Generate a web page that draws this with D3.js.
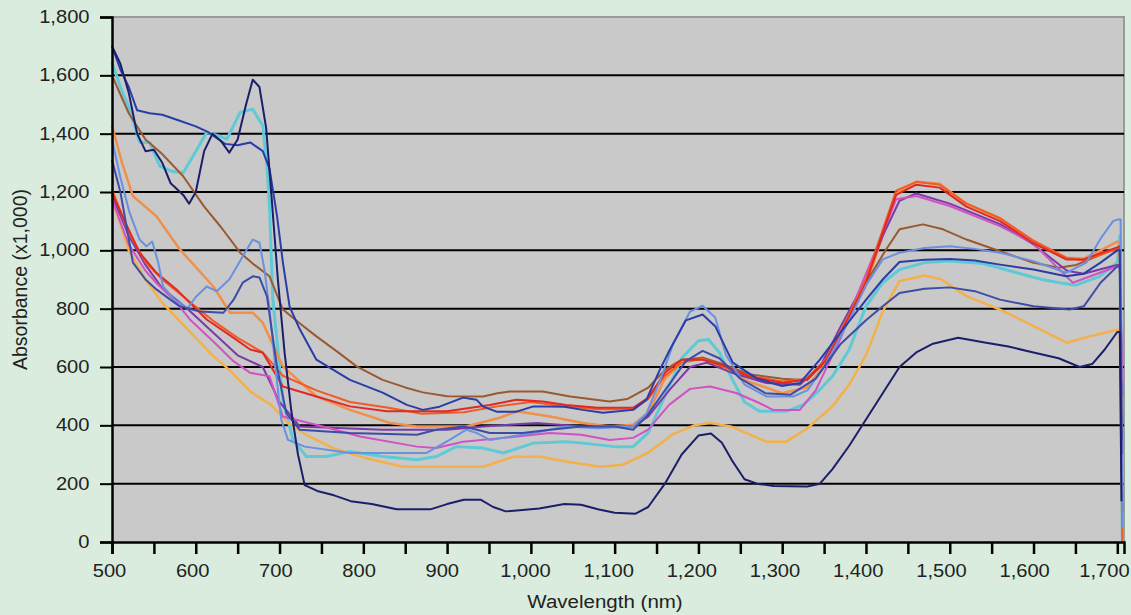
<!DOCTYPE html>
<html><head><meta charset="utf-8">
<script src="https://cdn.jsdelivr.net/npm/d3@7"></script>
<style>
html,body{margin:0;padding:0;background:#d9ecdd;}
svg{display:block;}
text{font-family:"Liberation Sans",Arial,sans-serif;fill:#222;}
</style></head>
<body><svg id="c" width="1131" height="615"></svg>
<script>
// ---- data (wavelength nm, absorbance x1000) ----
const yTicks = [0,200,400,600,800,1000,1200,1400,1600,1800];
const xTickLabels = [500,600,700,800,900,1000,1100,1200,1300,1400,1500,1600,1700];
const xMinorTicks = [550,650,750,850,950,1050,1150,1250,1350,1450,1550,1650];

const cyan = [[500,1644],[510,1560],[521,1484],[533,1370],[545,1370],[557,1289],[572,1270],[585,1266],[597,1324],[613,1404],[625,1395],[637,1381],[653,1473],[668,1484],[680,1427],[685,1289],[688,1152],[692,831],[704,488],[716,350],[732,293],[756,293],[784,310],[823,293],[864,282],[887,293],[911,327],[943,322],[967,305],[1003,339],[1042,344],[1062,339],[1100,327],[1122,327],[1140,374],[1160,500],[1180,630],[1200,690],[1212,694],[1225,650],[1240,560],[1255,480],[1273,448],[1305,448],[1325,470],[1341,511],[1360,568],[1380,660],[1400,808],[1420,889],[1440,934],[1470,958],[1500,963],[1540,955],[1580,923],[1610,900],[1631,889],[1650,880],[1679,911],[1700,958],[1703,1049],[1706,0]];
const lightOrange = [[500,1180],[520,1000],[540,900],[560,820],[580,760],[600,700],[620,640],[640,590],[665,516],[690,470],[710,410],[730,370],[764,322],[800,290],[847,258],[943,258],[979,292],[1011,292],[1042,276],[1082,258],[1110,265],[1140,306],[1170,370],[1195,400],[1214,408],[1240,395],[1260,370],[1281,344],[1305,344],[1330,390],[1360,465],[1380,540],[1400,640],[1420,790],[1440,895],[1470,914],[1490,900],[1520,843],[1560,797],[1600,740],[1640,683],[1667,705],[1700,728],[1703,728],[1706,200]];
const orange = [[500,1427],[512,1300],[525,1186],[553,1117],[581,1003],[621,876],[641,786],[668,786],[680,752],[704,602],[744,499],[784,453],[832,408],[864,396],[923,396],[963,426],[983,448],[1023,430],[1062,408],[1094,396],[1122,402],[1140,443],[1160,560],[1180,615],[1205,632],[1230,600],[1260,550],[1300,510],[1329,530],[1353,615],[1380,770],[1400,880],[1420,1050],[1436,1195],[1460,1235],[1488,1228],[1520,1160],[1560,1110],[1599,1030],[1639,975],[1660,972],[1680,1000],[1700,1030],[1703,1025],[1706,0]];
const brown = [[500,1600],[520,1470],[540,1380],[560,1330],[585,1254],[610,1150],[630,1080],[653,992],[670,950],[688,911],[704,797],[724,750],[744,705],[770,650],[792,602],[823,556],[850,530],[871,513],[900,500],[943,499],[960,510],[975,516],[1014,516],[1047,499],[1094,482],[1115,490],[1140,529],[1160,590],[1180,625],[1205,632],[1230,610],[1260,575],[1300,560],[1330,555],[1353,625],[1380,774],[1400,889],[1424,1003],[1440,1072],[1468,1089],[1492,1072],[1520,1037],[1560,997],[1599,958],[1630,940],[1651,950],[1680,985],[1700,1010],[1703,1015],[1706,400]];
const purple = [[500,1190],[520,1050],[540,950],[560,870],[590,800],[620,720],[650,640],[680,600],[700,480],[724,396],[823,385],[900,385],[943,396],[1007,408],[1060,396],[1122,396],[1140,430],[1165,520],[1190,600],[1210,615],[1240,580],[1281,545],[1321,539],[1345,600],[1370,740],[1400,900],[1420,1050],[1440,1170],[1460,1195],[1500,1160],[1560,1090],[1600,1020],[1640,930],[1660,920],[1680,935],[1700,950],[1703,950],[1706,500]];
const magenta = [[500,1174],[520,1020],[540,930],[553,888],[577,821],[593,763],[620,690],[645,620],[665,580],[688,568],[704,430],[752,396],[796,362],[864,327],[887,322],[919,344],[967,357],[1023,374],[1060,368],[1094,350],[1122,357],[1140,385],[1165,470],[1190,525],[1214,533],[1245,511],[1270,480],[1289,453],[1321,453],[1340,520],[1370,700],[1390,850],[1412,1003],[1436,1175],[1460,1186],[1500,1152],[1560,1083],[1599,1026],[1631,934],[1647,889],[1679,923],[1700,945],[1703,945],[1706,550]];
const orangeRed = [[500,1210],[520,1060],[540,960],[560,900],[590,830],[620,760],[650,700],[680,650],[704,570],[744,520],[784,480],[830,460],[870,440],[920,445],[960,465],[1000,480],[1040,465],[1080,455],[1122,455],[1140,490],[1160,570],[1180,615],[1205,628],[1230,600],[1260,570],[1300,550],[1329,560],[1353,630],[1380,780],[1400,900],[1420,1070],[1436,1205],[1460,1235],[1488,1225],[1520,1160],[1560,1110],[1599,1035],[1639,975],[1660,965],[1680,985],[1700,1005],[1703,1000],[1706,0]];
const red = [[500,1197],[518,1083],[533,992],[553,923],[577,866],[600,800],[613,763],[640,710],[665,660],[680,649],[704,533],[744,499],[784,465],[828,448],[900,448],[951,470],[983,488],[1014,482],[1042,470],[1080,460],[1122,460],[1140,494],[1160,580],[1180,625],[1205,625],[1230,605],[1260,568],[1301,545],[1329,557],[1353,625],[1380,774],[1400,889],[1420,1060],[1436,1190],[1460,1225],[1488,1215],[1520,1150],[1560,1100],[1599,1026],[1639,969],[1660,969],[1680,990],[1700,1010],[1703,1010],[1706,100]];
const cornflower = [[500,1380],[510,1250],[521,1129],[533,1037],[541,1014],[548,1030],[555,960],[561,876],[575,830],[590,800],[600,840],[613,876],[625,860],[640,900],[656,979],[668,1037],[676,1026],[682,934],[688,797],[695,600],[702,420],[710,350],[730,327],[784,305],[875,305],[903,350],[923,385],[935,374],[951,350],[1003,374],[1042,396],[1080,390],[1122,396],[1138,440],[1155,560],[1170,680],[1190,790],[1205,810],[1220,770],[1233,640],[1255,540],[1281,499],[1313,499],[1330,520],[1350,600],[1380,760],[1400,880],[1420,969],[1440,992],[1470,1008],[1500,1014],[1530,1005],[1560,992],[1600,963],[1639,923],[1663,958],[1680,1040],[1695,1100],[1701,1106],[1704,1106],[1706,50]];
const purpleBlue = [[500,1310],[510,1200],[525,958],[540,900],[553,866],[570,830],[581,808],[605,790],[633,786],[645,830],[656,889],[668,911],[676,907],[685,842],[692,700],[697,600],[708,442],[724,385],[784,374],[864,368],[887,385],[920,396],[951,374],[990,374],[1023,385],[1060,396],[1100,396],[1122,385],[1138,430],[1160,520],[1185,620],[1205,655],[1225,630],[1250,560],[1280,510],[1310,505],[1340,560],[1370,680],[1400,760],[1420,808],[1440,854],[1470,868],[1500,873],[1530,860],[1560,831],[1600,808],[1643,797],[1660,808],[1680,889],[1700,945],[1703,945],[1705,350]];
const royal = [[500,1700],[510,1620],[520,1560],[530,1480],[545,1470],[560,1465],[580,1445],[600,1425],[615,1405],[635,1365],[650,1360],[665,1370],[680,1340],[688,1280],[697,1117],[704,958],[712,807],[724,730],[744,625],[784,556],[823,512],[852,470],[871,453],[891,464],[919,495],[935,488],[943,464],[959,447],[983,447],[1003,465],[1040,464],[1062,453],[1086,443],[1122,453],[1138,488],[1154,591],[1166,660],[1185,760],[1205,780],[1220,740],[1241,615],[1270,560],[1300,535],[1321,545],[1345,625],[1370,720],[1400,830],[1420,900],[1440,960],[1470,968],[1500,970],[1530,965],[1560,951],[1600,934],[1639,911],[1660,920],[1680,958],[1700,1000],[1703,1000],[1705,300]];
const navy = [[500,1700],[510,1640],[520,1540],[530,1400],[540,1340],[550,1345],[560,1300],[570,1230],[585,1190],[592,1160],[600,1200],[610,1340],[620,1400],[630,1375],[640,1335],[650,1380],[660,1500],[668,1585],[676,1560],[684,1420],[690,1200],[698,900],[706,650],[714,450],[722,300],[730,195],[745,175],[765,160],[785,140],[810,130],[840,112],[880,112],[900,130],[920,145],[940,145],[955,120],[970,105],[990,110],[1010,115],[1040,130],[1060,128],[1080,112],[1100,100],[1125,97],[1140,120],[1160,200],[1180,300],[1200,365],[1215,372],[1228,340],[1240,280],[1255,215],[1270,200],[1290,192],[1330,190],[1345,200],[1360,250],[1380,330],[1400,420],[1420,510],[1440,600],[1460,650],[1480,680],[1510,700],[1540,685],[1570,670],[1600,650],[1630,630],[1655,600],[1670,610],[1685,660],[1700,720],[1703,720],[1705,140]];

const seriesList = [
  {data:cyan, color:"#5fcad6", w:3},
  {data:lightOrange, color:"#f4b04a", w:2.5},
  {data:orange, color:"#f0904a", w:2.5},
  {data:brown, color:"#9a5a30", w:2},
  {data:purple, color:"#7c3aa8", w:2},
  {data:magenta, color:"#d052c6", w:2},
  {data:orangeRed, color:"#f25a26", w:2},
  {data:red, color:"#de2a22", w:2},
  {data:cornflower, color:"#6a90e0", w:2},
  {data:purpleBlue, color:"#3f4ca6", w:2},
  {data:royal, color:"#2a3da6", w:2},
  {data:navy, color:"#1b1f6a", w:2}
];

// ---- layout ----
const svg = d3.select("#c");
const L = 112, R = 1124, T = 17, B = 542;
const x = d3.scaleLinear().domain([500,1708]).range([L,R]);
const y = d3.scaleLinear().domain([0,1800]).range([B,T]);
const SX = 1.15; // horizontal stretch of the text glyphs

svg.append("rect").attr("x",L).attr("y",T).attr("width",R-L).attr("height",B-T).attr("fill","#c9c9c9");
svg.append("path").attr("d",`M${L},${T}H${R}V${B}`).attr("fill","none").attr("stroke","#9a9a9a").attr("stroke-width",2);

// gridlines
svg.append("g").selectAll("line").data(yTicks.filter(v=>v>0 && v<1800)).join("line")
  .attr("x1",L).attr("x2",R).attr("y1",d=>y(d)).attr("y2",d=>y(d))
  .attr("stroke","#000").attr("stroke-width",2);

// lines
const line = d3.line().x(d=>x(d[0])).y(d=>y(d[1]));
const gL = svg.append("g");
seriesList.forEach(s=>{
  gL.append("path").attr("d",line(s.data)).attr("fill","none")
    .attr("stroke",s.color).attr("stroke-width",s.w).attr("stroke-linejoin","round");
});

// y axis
const yAxis = d3.axisLeft(y).tickValues(yTicks).tickFormat(d3.format(",")).tickSize(12).tickPadding(10);
const gy = svg.append("g").attr("transform",`translate(${L},0)`).call(yAxis);
gy.select(".domain").attr("stroke","#000").attr("stroke-width",2.5);
gy.selectAll(".tick line").attr("stroke","#000").attr("stroke-width",2);
gy.selectAll(".tick text").style("font-size","17.5px").attr("fill","#222")
  .attr("x",0).attr("transform",`translate(-22.5,0) scale(${SX},1)`);

// x axis
const xAll = xTickLabels.concat(xMinorTicks).sort((a,b)=>a-b);
const xAxis = d3.axisBottom(x).tickValues(xAll)
  .tickFormat(d=> xTickLabels.includes(d) ? d3.format(",")(d) : "").tickSize(12).tickPadding(11);
const gx = svg.append("g").attr("transform",`translate(0,${B})`).call(xAxis);
gx.select(".domain").attr("stroke","#000").attr("stroke-width",2.5);
gx.selectAll(".tick line").attr("stroke","#000").attr("stroke-width",2.5);
gx.selectAll(".tick text").style("font-size","17.5px").attr("fill","#222")
  .attr("transform",d=>{
    let dx = -3-7*(d-500)/1200;
    const cx = x(d)+dx, half = 26;
    if (cx + half > 1130) dx -= (cx + half - 1130);
    return `translate(${dx},0) scale(${SX},1)`;
  });

// titles
svg.append("text").attr("transform",`translate(605,608) scale(1.08,1)`).attr("text-anchor","middle")
  .style("font-size","19px").text("Wavelength (nm)");
svg.append("text").attr("transform",`translate(27,${(T+B)/2}) rotate(-90)`).attr("text-anchor","middle")
  .style("font-size","19.5px").text("Absorbance (x1,000)");
</script></body></html>
